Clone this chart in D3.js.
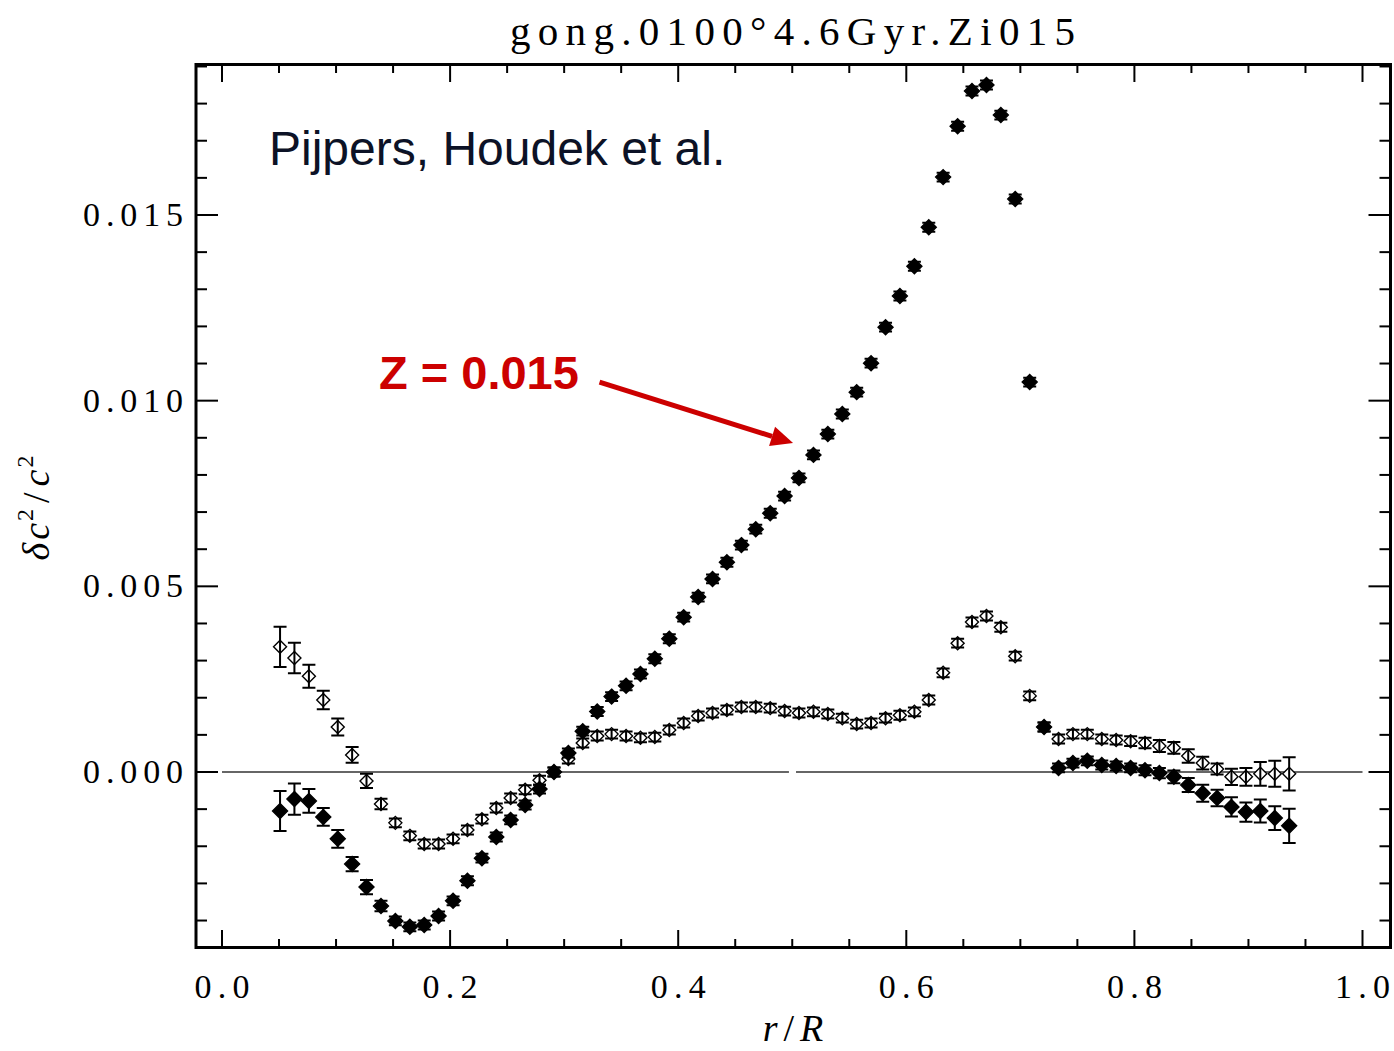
<!DOCTYPE html>
<html>
<head>
<meta charset="utf-8">
<script src="https://cdn.jsdelivr.net/npm/d3@7"></script>
<style>
  body { margin: 0; background: #fff; }
  svg { display: block; }
</style>
</head>
<body>
<svg id="chart" width="1394" height="1051"></svg>
<script>
// radius grid r/R shared by both series
const rVals = [0.0509, 0.0635, 0.0762, 0.0888, 0.1015, 0.1141, 0.1267, 0.1394, 0.1520, 0.1647,
    0.1773, 0.1899, 0.2026, 0.2152, 0.2279, 0.2405, 0.2531, 0.2658, 0.2784, 0.2911,
    0.3037, 0.3163, 0.3290, 0.3416, 0.3543, 0.3669, 0.3795, 0.3922, 0.4048, 0.4175,
    0.4301, 0.4427, 0.4554, 0.4680, 0.4807, 0.4933, 0.5059, 0.5186, 0.5312, 0.5439,
    0.5565, 0.5691, 0.5818, 0.5944, 0.6071, 0.6197, 0.6323, 0.6450, 0.6576, 0.6703,
    0.6829, 0.6955, 0.7082, 0.7208, 0.7335, 0.7461, 0.7587, 0.7714, 0.7840, 0.7967,
    0.8093, 0.8219, 0.8346, 0.8472, 0.8599, 0.8725, 0.8851, 0.8978, 0.9104, 0.9231,
    0.9357];

// filled diamonds (Z = 0.015)
const filledVals = [-0.00105, -0.00073, -0.00078, -0.00121, -0.00180, -0.00248, -0.00310, -0.00361, -0.00401, -0.00417,
    -0.00412, -0.00388, -0.00347, -0.00293, -0.00232, -0.00175, -0.00129, -0.00089, -0.00046, 0.00000,
    0.00051, 0.00110, 0.00163, 0.00203, 0.00232, 0.00264, 0.00305, 0.00359, 0.00417, 0.00471,
    0.00520, 0.00565, 0.00611, 0.00654, 0.00697, 0.00743, 0.00792, 0.00854, 0.00910, 0.00964,
    0.01023, 0.01101, 0.01198, 0.01282, 0.01362, 0.01467, 0.01602, 0.01739, 0.01834, 0.01850,
    0.01769, 0.01543, 0.01050, 0.00121, 0.00011, 0.00024, 0.00030, 0.00019, 0.00016, 0.00011,
    0.00005, -0.00003, -0.00013, -0.00035, -0.00057, -0.00070, -0.00094, -0.00108, -0.00105, -0.00124,
    -0.00145];
const filledErr = [0.00054, 0.00042, 0.00032, 0.00024, 0.00024, 0.00019, 0.00019, 0.00014, 0.00012, 0.00012,
    0.00012, 0.00012, 0.00012, 0.00012, 0.00012, 0.00012, 0.00012, 0.00012, 0.00012, 0.00012,
    0.00012, 0.00012, 0.00012, 0.00012, 0.00012, 0.00012, 0.00012, 0.00012, 0.00012, 0.00012,
    0.00012, 0.00012, 0.00012, 0.00012, 0.00012, 0.00012, 0.00012, 0.00012, 0.00012, 0.00012,
    0.00012, 0.00012, 0.00012, 0.00012, 0.00012, 0.00012, 0.00012, 0.00012, 0.00012, 0.00012,
    0.00012, 0.00012, 0.00012, 0.00012, 0.00012, 0.00012, 0.00012, 0.00012, 0.00012, 0.00012,
    0.000135, 0.000135, 0.00017, 0.00019, 0.00023, 0.00022, 0.00026, 0.00026, 0.00031, 0.00032,
    0.00046];

// open diamonds
const openVals = [0.00337, 0.00307, 0.00258, 0.00194, 0.00121, 0.00046, -0.00024, -0.00086, -0.00137, -0.00172,
    -0.00194, -0.00194, -0.00180, -0.00156, -0.00127, -0.00097, -0.00070, -0.00048, -0.00022, 0.00000,
    0.00035, 0.00078, 0.00097, 0.00102, 0.00097, 0.00092, 0.00094, 0.00113, 0.00132, 0.00151,
    0.00159, 0.00167, 0.00175, 0.00175, 0.00172, 0.00164, 0.00159, 0.00162, 0.00156, 0.00145,
    0.00129, 0.00132, 0.00145, 0.00153, 0.00162, 0.00194, 0.00267, 0.00347, 0.00404, 0.00420,
    0.00390, 0.00312, 0.00205, 0.00121, 0.00089, 0.00102, 0.00102, 0.00089, 0.00086, 0.00083,
    0.00078, 0.00070, 0.00065, 0.00043, 0.00024, 0.00008, -0.00013, -0.00013, -0.00005, -0.00005,
    -0.00005];
const openErr = [0.00054, 0.00041, 0.00031, 0.00025, 0.00023, 0.00021, 0.00019, 0.00014, 0.00012, 0.00012,
    0.00012, 0.00012, 0.00012, 0.00012, 0.00012, 0.00012, 0.00012, 0.00012, 0.00012, 0.00012,
    0.00012, 0.00012, 0.00012, 0.00012, 0.00012, 0.00012, 0.00012, 0.00012, 0.00012, 0.00012,
    0.00012, 0.00012, 0.00012, 0.00012, 0.00012, 0.00012, 0.00012, 0.00012, 0.00012, 0.00012,
    0.00012, 0.00012, 0.00012, 0.00012, 0.00012, 0.00012, 0.00012, 0.00012, 0.00012, 0.00012,
    0.00012, 0.00012, 0.00012, 0.00012, 0.00012, 0.00012, 0.00012, 0.00012, 0.00012, 0.00013,
    0.00014, 0.00016, 0.00016, 0.00018, 0.00017, 0.00015, 0.00022, 0.00024, 0.00032, 0.00035,
    0.00045];

// ticks
const xMajor = [0.0, 0.2, 0.4, 0.6, 0.8, 1.0];
const xMinor = [0.05, 0.1, 0.15, 0.25, 0.3, 0.35, 0.45, 0.5, 0.55, 0.65, 0.7, 0.75, 0.85, 0.9, 0.95];
const yMajor = [0.000, 0.005, 0.010, 0.015];
const yMinor = [-0.004, -0.003, -0.002, -0.001, 0.001, 0.002, 0.003, 0.004, 0.006, 0.007, 0.008, 0.009,
    0.011, 0.012, 0.013, 0.014, 0.016, 0.017, 0.018, 0.019];

// zero reference line, drawn in two pieces like the original
const zeroSegments = [[0.0, 0.4971], [0.5033, 1.0]];

const titleText = 'gong.0100°4.6Gyr.Zi015';
const creditText = 'Pijpers, Houdek et al.';
const zLabel = 'Z = 0.015';
const arrowFrom = [0.331, 0.0105];
const arrowTo = [0.5007, 0.00886];

function draw() {
    const svg = d3.select('#chart');
    const frame = {left: 196, right: 1390.5, top: 64.5, bottom: 947.5};

    const x = d3.scaleLinear().domain([0, 1]).range([222, 1362.5]);
    const y = d3.scaleLinear().domain([0, 0.015]).range([772, 215]);

    const serif = "'Liberation Serif', 'Times New Roman', serif";

    // title
    svg.append('text')
        .attr('x', 792.5).attr('y', 45)
        .attr('text-anchor', 'middle')
        .attr('font-family', serif).attr('font-size', 41)
        .attr('textLength', 565).attr('lengthAdjust', 'spacing')
        .text(titleText);

    // zero line
    svg.append('g').selectAll('line')
        .data(zeroSegments)
        .enter().append('line')
        .attr('x1', d => x(d[0])).attr('x2', d => x(d[1]))
        .attr('y1', y(0)).attr('y2', y(0))
        .attr('stroke', '#333').attr('stroke-width', 1.4);

    // ticks on all four sides
    const tk = svg.append('g').attr('stroke', '#000').attr('stroke-width', 2);
    function xTicks(vals, len) {
        vals.forEach(v => {
            tk.append('line').attr('x1', x(v)).attr('x2', x(v))
                .attr('y1', frame.bottom).attr('y2', frame.bottom - len);
            tk.append('line').attr('x1', x(v)).attr('x2', x(v))
                .attr('y1', frame.top).attr('y2', frame.top + len);
        });
    }
    function yTicks(vals, len) {
        vals.forEach(v => {
            tk.append('line').attr('y1', y(v)).attr('y2', y(v))
                .attr('x1', frame.left).attr('x2', frame.left + len);
            tk.append('line').attr('y1', y(v)).attr('y2', y(v))
                .attr('x1', frame.right).attr('x2', frame.right - len);
        });
    }
    xTicks(xMajor, 17.5);
    xTicks(xMinor, 8.5);
    yTicks(yMajor, 22);
    yTicks(yMinor, 11);

    // frame
    svg.append('rect')
        .attr('x', frame.left).attr('y', frame.top)
        .attr('width', frame.right - frame.left)
        .attr('height', frame.bottom - frame.top)
        .attr('fill', 'none').attr('stroke', '#000').attr('stroke-width', 3);

    // tick labels
    svg.append('g').selectAll('text')
        .data(xMajor)
        .enter().append('text')
        .attr('x', d => x(d)).attr('y', 998)
        .attr('text-anchor', 'middle')
        .attr('font-family', serif).attr('font-size', 34)
        .attr('textLength', 55).attr('lengthAdjust', 'spacing')
        .text(d => d3.format('.1f')(d));

    svg.append('g').selectAll('text')
        .data(yMajor)
        .enter().append('text')
        .attr('x', 83).attr('y', d => y(d) + 11)
        .attr('font-family', serif).attr('font-size', 34)
        .attr('textLength', 100).attr('lengthAdjust', 'spacing')
        .text(d => d3.format('.3f')(d));

    // axis titles
    const xl = svg.append('text')
        .attr('x', 793).attr('y', 1041)
        .attr('text-anchor', 'middle')
        .attr('font-family', serif).attr('font-size', 38).attr('font-style', 'italic');
    xl.append('tspan').text('r');
    xl.append('tspan').attr('font-style', 'normal').attr('dx', 6).text('/');
    xl.append('tspan').attr('dx', 6).text('R');

    const yl = svg.append('text')
        .attr('transform', 'translate(49,508) rotate(-90)')
        .attr('text-anchor', 'middle')
        .attr('font-family', serif).attr('font-size', 38).attr('font-style', 'italic');
    yl.append('tspan').text('δ');
    yl.append('tspan').attr('dx', 3).text('c');
    yl.append('tspan').attr('font-size', 24).attr('font-style', 'normal').attr('dx', 2).attr('dy', -16).text('2');
    yl.append('tspan').attr('font-style', 'normal').attr('dy', 16).attr('dx', 6).text('/');
    yl.append('tspan').attr('dx', 6).text('c');
    yl.append('tspan').attr('font-size', 24).attr('font-style', 'normal').attr('dx', 2).attr('dy', -16).text('2');

    // data
    const open = rVals.map((r, i) => ({r: r, v: openVals[i], e: openErr[i]}));
    const filled = rVals.map((r, i) => ({r: r, v: filledVals[i], e: filledErr[i]}));

    const diamond = s => `M0,${-s}L${s},0L0,${s}L${-s},0Z`;
    const capW = 6.5;

    function drawSeries(data, fill, size) {
        const g = svg.append('g');
        const pts = g.selectAll('g.pt')
            .data(data)
            .enter().append('g')
            .attr('class', 'pt')
            .attr('transform', d => `translate(${x(d.r)},${y(d.v)})`);

        pts.append('path')
            .attr('d', diamond(size))
            .attr('fill', fill)
            .attr('stroke', '#000').attr('stroke-width', 1.4);

        pts.append('path')
            .attr('d', d => {
                const top = y(d.v + d.e) - y(d.v);
                const bot = y(d.v - d.e) - y(d.v);
                return `M0,${top}L0,${bot}M${-capW},${top}L${capW},${top}M${-capW},${bot}L${capW},${bot}`;
            })
            .attr('fill', 'none')
            .attr('stroke', '#000').attr('stroke-width', 2);
    }
    drawSeries(open, '#fff', 6.5);
    drawSeries(filled, '#000', 7.5);

    // annotations
    svg.append('text')
        .attr('x', 269).attr('y', 165)
        .attr('font-family', "'Liberation Sans', Arial, sans-serif")
        .attr('font-size', 48)
        .attr('fill', '#0c1226')
        .text(creditText);

    svg.append('text')
        .attr('x', 379).attr('y', 389)
        .attr('font-family', "'Liberation Sans', Arial, sans-serif")
        .attr('font-size', 47).attr('font-weight', 'bold')
        .attr('fill', '#cc0000')
        .text(zLabel);

    const ax0 = x(arrowFrom[0]), ay0 = y(arrowFrom[1]);
    const ax1 = x(arrowTo[0]), ay1 = y(arrowTo[1]);
    const ang = Math.atan2(ay1 - ay0, ax1 - ax0);
    const headLen = 22, headW = 10;
    const bx = ax1 - headLen * Math.cos(ang), by = ay1 - headLen * Math.sin(ang);
    svg.append('line')
        .attr('x1', ax0).attr('y1', ay0).attr('x2', bx).attr('y2', by)
        .attr('stroke', '#cc0000').attr('stroke-width', 5);
    svg.append('path')
        .attr('d', `M${ax1},${ay1}L${bx - headW * Math.sin(ang)},${by + headW * Math.cos(ang)}L${bx + headW * Math.sin(ang)},${by - headW * Math.cos(ang)}Z`)
        .attr('fill', '#cc0000');
}

draw();
</script>
</body>
</html>
